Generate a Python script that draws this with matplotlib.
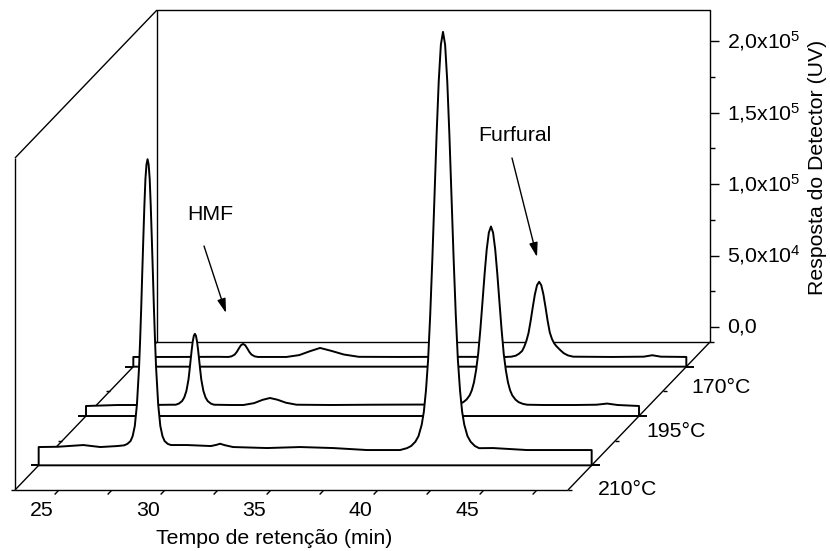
import numpy as np
import matplotlib
matplotlib.use("Agg")
import matplotlib.pyplot as plt
from matplotlib.markers import TICKLEFT, TICKRIGHT
from matplotlib.path import Path

plt.rcParams['font.family'] = ['Liberation Sans', 'DejaVu Sans']
plt.rcParams['mathtext.default'] = 'regular'

# ---------------- data ----------------
samples = ['210°C', '195°C', '170°C']          # front -> back
depth = [0.5, 1.5, 2.5]                        # position along depth axis

# retention time (min) / detector response (x10^3 UV)
t_210 = [23.0, 23.9, 25.1, 25.9, 26.7,
         27.02, 27.17, 27.32, 27.42, 27.52, 27.62, 27.72, 27.77, 27.82, 27.87, 27.92, 27.97, 28.02, 28.07,
         28.12, 28.17, 28.22, 28.27, 28.32, 28.37, 28.42, 28.47, 28.52, 28.62, 28.72, 28.82, 28.92, 29.07, 29.22,
         29.97, 31.1, 31.35, 31.53, 31.75, 32.14, 33.74, 35.29, 36.84, 38.44, 39.99,
         40.31, 40.51, 40.71, 40.86, 41.01, 41.11, 41.21, 41.31, 41.41, 41.51, 41.61, 41.71, 41.81, 41.91,
         42.01, 42.11, 42.21, 42.31, 42.41, 42.51, 42.61, 42.71, 42.81, 42.91, 43.01, 43.16, 43.31, 43.51, 43.71,
         44.36, 45.96, 47.51, 49.0]
r_210 = [2.3, 2.5, 3.7, 2.3, 3.0,
         3.5, 4.5, 6.5, 10, 17, 32, 58, 77, 99, 124, 148, 171, 190, 200,
         203.7, 200, 190, 171, 148, 124, 99, 77, 58, 32, 17, 10, 6.5, 4.5, 3.7,
         3.7, 3.0, 3.8, 4.6, 3.6, 2.3, 1.6, 2.3, 1.6, 0.2, 0.2,
         1.5, 3, 6, 10, 18, 27, 42, 63.3, 95.1, 134.1, 177.6, 221.1, 258.4, 283.8,
         292.8, 283.8, 258.4, 221.1, 177.6, 134.1, 95.1, 63.3, 42, 27, 18, 10, 6, 3, 1.5,
         1.6, 0.2, 0.2, 0.2]

t_195 = [23.0, 24.5, 26.0, 27.0,
         27.22, 27.37, 27.52, 27.62, 27.72, 27.77, 27.82, 27.87, 27.92, 27.97, 28.02, 28.07,
         28.12, 28.17, 28.22, 28.27, 28.32, 28.37, 28.42, 28.47, 28.52, 28.62, 28.72, 28.87, 29.02,
         29.8, 30.4, 30.9, 31.3, 31.65, 32.0, 32.4, 32.9, 34.5, 36.5, 38.5, 40.0,
         40.34, 40.54, 40.74, 40.89, 41.04, 41.14, 41.24, 41.34, 41.44, 41.54, 41.64, 41.74, 41.84, 41.94,
         42.04, 42.14, 42.24, 42.34, 42.44, 42.54, 42.64, 42.74, 42.84, 42.94, 43.04, 43.19, 43.34, 43.54, 43.74,
         44.5, 46.0, 47.0, 47.5, 48.0, 49.0]
r_195 = [-3.5, -2.8, -2.8, -2.6,
         -2.6, -1.8, 0, 2.5, 7, 11, 15.1, 21.7, 28.8, 35.8, 41.7, 45.6,
         47.0, 45.6, 41.7, 35.8, 28.8, 21.7, 15.1, 11, 7, 2.5, 0, -1.8, -2.6,
         -2.8, -2.8, -1.5, 0.8, 2.1, 0.9, -1.2, -2.6, -2.8, -2.6, -2.5, -2.5,
         -2.6, -2.0, -0.8, 1, 4, 7.5, 13, 21.5, 33.1, 49.8, 69.0, 88.7, 106.0, 117.8,
         122.1, 117.8, 106.0, 88.7, 69.0, 49.8, 33.1, 21.5, 13, 7.5, 4, 1, -0.8, -2.0, -2.6,
         -2.8, -2.8, -2.6, -1.8, -2.8, -3.5]

t_170 = [23.0, 25.0, 27.0, 27.46,
         27.61, 27.76, 27.86, 27.96, 28.06, 28.16, 28.26, 28.36, 28.46, 28.56, 28.71, 28.86,
         30.2, 30.8, 31.3, 31.78, 32.3, 32.9, 33.6, 35.5, 38.0, 40.5,
         40.78, 40.98, 41.13, 41.28, 41.38, 41.48, 41.58, 41.68, 41.78, 41.88, 41.98,
         42.08, 42.18, 42.28, 42.38, 42.48, 42.58, 42.68, 42.78, 42.88, 42.98, 43.08, 43.23, 43.43, 43.68,
         45.5, 47.0, 47.4, 47.8, 49.0]
r_170 = [-3.7, -3.7, -3.6, -3.7,
         -3.3, -2.1, -0.3, 2.2, 4.5, 5.4, 4.5, 2.2, -0.3, -2.1, -3.3, -3.7,
         -3.7, -2.4, 0.3, 2.6, 0.6, -2.0, -3.6, -3.7, -3.6, -3.7,
         -3.5, -2.8, -1.5, 0.5, 3.5, 7.5, 13.0, 21.5, 31.1, 40.1, 46.5,
         48.9, 46.5, 40.1, 31.1, 21.5, 13.5, 9, 6, 4, 2.5, 1, -1, -2.6, -3.5,
         -3.7, -3.5, -2.5, -3.5, -3.7]

times = [t_210, t_195, t_170]
resp = [r_210, r_195, r_170]

x_ticks = [25, 30, 35, 40, 45]
x_minor = [27.5, 32.5, 37.5, 42.5, 47.5]
y_ticks = [0, 5e4, 1e5, 1.5e5, 2e5]
y_labels = ['0,0', '5,0x10$^4$', '1,0x10$^5$', '1,5x10$^5$', '2,0x10$^5$']
y_minor = [2.5e4, 7.5e4, 1.25e5, 1.75e5]

# ---------------- layout ----------------
W, H, DPI = 830, 551, 100
fig = plt.figure(figsize=(W / DPI, H / DPI), dpi=DPI)
X0, Y0, PW, PH = 15, 61, 553, 332          # front plane (pixels, from bottom-left)
ax = fig.add_axes([X0 / W, Y0 / H, PW / W, PH / H])
TMIN, TMAX = 23, 49
YMIN, YMAX = -10.5e3, 221.8e3
ax.set_xlim(TMIN, TMAX)
ax.set_ylim(YMIN, YMAX)
ax.set_axis_off()

DX, DY = 47.33, 49.33        # pixel shift per depth unit
ZBACK = 3.0
KX = DX * (TMAX - TMIN) / PW
KY = DY * (YMAX - YMIN) / PH


def oblique(t, v, z):
    return np.asarray(t, float) + z * KX, np.asarray(v, float) + z * KY


LWF = 1.0     # frame
LWC = 1.4     # curves
FS = 15.3
k = dict(color='black', clip_on=False, solid_capstyle='butt')

# back wall
bx, by = oblique([TMIN, TMIN, TMAX, TMAX, TMIN], [YMIN, YMAX, YMAX, YMIN, YMIN], ZBACK)
ax.plot(bx, by, lw=LWF, zorder=1, **k)
# left wall + floor edges
for (t0, v0, z0), (t1, v1, z1) in [((TMIN, YMIN, 0), (TMIN, YMAX, 0)),
                                   ((TMIN, YMAX, 0), (TMIN, YMAX, ZBACK)),
                                   ((TMIN, YMIN, 0), (TMIN, YMIN, ZBACK)),
                                   ((TMAX, YMIN, 0), (TMAX, YMIN, ZBACK)),
                                   ((TMIN, YMIN, 0), (TMAX, YMIN, 0))]:
    p0 = oblique(t0, v0, z0)
    p1 = oblique(t1, v1, z1)
    ax.plot([p0[0], p1[0]], [p0[1], p1[1]], lw=LWF, zorder=1, **k)

# right (response) axis ticks on back wall
yt_x, yt_y = oblique([TMAX] * len(y_ticks), y_ticks, ZBACK)
ax.plot(yt_x, yt_y, ls='none', marker=TICKRIGHT, ms=6.5, mew=LWF, color='black', clip_on=False, zorder=1)
ym_x, ym_y = oblique([TMAX] * len(y_minor), y_minor, ZBACK)
ax.plot(ym_x, ym_y, ls='none', marker=TICKRIGHT, ms=3.6, mew=LWF, color='black', clip_on=False, zorder=1)
for yv, lab in zip(y_ticks, y_labels):
    ax.annotate(lab, xy=oblique(TMAX, yv, ZBACK), xytext=(17, 0), textcoords='offset pixels',
                ha='left', va='center', fontsize=FS, annotation_clip=False)

# x ticks on front edge (pointing along depth)
xtick_marker = Path([(0, 0), (-DX / DY, -1.0)], [Path.MOVETO, Path.LINETO])
xt = list(x_ticks) + list(x_minor)
ax.plot(xt, [YMIN] * len(xt), ls='none', marker=xtick_marker, ms=5.8, mew=LWF,
        color='black', clip_on=False, zorder=1)
for xv in x_ticks:
    ax.annotate(str(xv), xy=(xv, YMIN), xytext=(-16, -20), textcoords='offset pixels',
                ha='center', va='center', fontsize=FS, annotation_clip=False)

# depth minor ticks
for zm in [0, 1, 2, 3]:
    ax.plot(*oblique(TMIN, YMIN, zm), marker=TICKLEFT, ms=2.9, mew=LWF, color='black', clip_on=False, zorder=1)
    ax.plot(*oblique(TMAX, YMIN, zm), marker=TICKRIGHT, ms=2.9, mew=LWF, color='black', clip_on=False, zorder=1)

# slices: back to front
label_off = {'210°C': (36, -24), '195°C': (37, -15), '170°C': (34.5, -21)}
for i in reversed(range(len(samples))):
    z = depth[i]
    zo = 5 + (len(samples) - i) * 2
    tt = np.concatenate([[TMIN], times[i], [TMAX]])
    vv = np.concatenate([[YMIN], np.asarray(resp[i]) * 1e3, [YMIN]])
    px, py = oblique(tt, vv, z)
    ax.fill(px, py, facecolor='white', edgecolor='black', lw=LWC, zorder=zo,
            clip_on=False, joinstyle='round')
    ax.plot(*oblique(TMIN, YMIN, z), marker=TICKLEFT, ms=5.8, mew=LWC, color='black',
            clip_on=False, zorder=zo)
    ax.plot(*oblique(TMAX, YMIN, z), marker=TICKRIGHT, ms=5.8, mew=LWC, color='black',
            clip_on=False, zorder=zo)
    ax.annotate(samples[i], xy=oblique(TMAX, YMIN, z), xytext=label_off[samples[i]],
                textcoords='offset pixels', ha='center', va='center', fontsize=FS,
                annotation_clip=False)

# axis titles
fig.text(274 / W, 1 - 538 / H, 'Tempo de retenção (min)', ha='center', va='center', fontsize=FS)
fig.text(817 / W, 1 - 167 / H, 'Resposta do Detector (UV)', ha='center', va='center',
         rotation=90, fontsize=FS)

# annotations
arrow = dict(arrowstyle='-|>,head_length=0.57,head_width=0.17', lw=1.0, color='black',
             shrinkA=0, shrinkB=0, mutation_scale=15)
fig.text(210 / W, 1 - 215 / H, 'HMF', ha='center', va='center', fontsize=FS)
ax.annotate('', xy=(226 / W, 1 - 313 / H), xycoords='figure fraction',
            xytext=(204 / W, 1 - 246 / H), textcoords='figure fraction', arrowprops=arrow)
fig.text(515 / W, 1 - 135 / H, 'Furfural', ha='center', va='center', fontsize=FS)
ax.annotate('', xy=(537 / W, 1 - 257 / H), xycoords='figure fraction',
            xytext=(512 / W, 1 - 158 / H), textcoords='figure fraction', arrowprops=arrow)

fig.savefig('out.png', dpi=DPI)
